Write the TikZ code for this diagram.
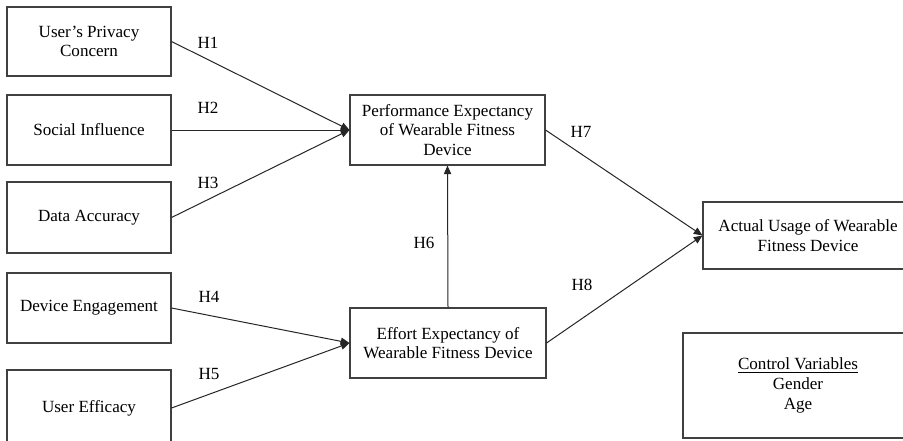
\documentclass[tikz,border=0pt]{standalone}
\usepackage{fontspec}
\setmainfont{Liberation Serif}
\usetikzlibrary{arrows.meta}

\begin{document}
\begin{tikzpicture}[
    x=.75pt,y=-.75pt,
    font=\fontsize{12.8}{14.8}\selectfont,
    box/.style={draw=black!75,line width=.8pt,align=center,inner sep=2pt},
    e/.style={-{Triangle[length=6.5pt,width=5.5pt]},line width=.75pt,black!85},
    lab/.style={inner sep=0pt}
  ]
    \useasboundingbox[fill=white] (0,0) rectangle (903,440);
    % predictors
    \node[box,minimum width=123pt,minimum height=51.75pt] (pc) at (89,41.5) {User’s Privacy\\Concern};
    \node[box,minimum width=123pt,minimum height=52.5pt] (si) at (89,130) {Social Influence};
    \node[box,minimum width=123pt,minimum height=53.25pt] (da) at (89,217.5) {Data Accuracy};
    \node[box,minimum width=123pt,minimum height=52.5pt] (de) at (89,308) {Device Engagement};
    \node[box,minimum width=123pt,minimum height=57pt] (ue) at (89,408) {User Efficacy};
    % mediators and outcome
    \node[box,minimum width=146.25pt,minimum height=52.5pt] (pe) at (447.5,130) {Performance Expectancy\\of Wearable Fitness\\Device};
    \node[box,minimum width=147pt,minimum height=52.5pt] (ee) at (448,343) {Effort Expectancy of\\Wearable Fitness Device};
    \node[box,minimum width=157.5pt,minimum height=50.25pt] (au) at (808,235.5) {Actual Usage of Wearable\\Fitness Device};
    \node[box,minimum width=172.5pt,minimum height=78.75pt] (cv) at (798,385.5) {\underline{Control Variables}\\Gender\\Age};
    % paths
    \foreach \s/\t in {pc/pe,si/pe,da/pe,de/ee,ue/ee,pe/au,ee/au} {\draw[e] (\s.east)--(\t.west);}
    \draw[e] (ee.north)--(pe.south);
    \node[lab] (h1) at (208,43) {H1}; \node[lab] (h2) at (208,108) {H2}; \node[lab] (h3) at (208,183) {H3};
    \node[lab] (h4) at (209,297) {H4}; \node[lab] (h5) at (209,374) {H5}; \node[lab] (h6) at (424,243) {H6};
    \node[lab] (h7) at (581,132) {H7}; \node[lab] (h8) at (582,285) {H8};
  \end{tikzpicture}
\end{document}
